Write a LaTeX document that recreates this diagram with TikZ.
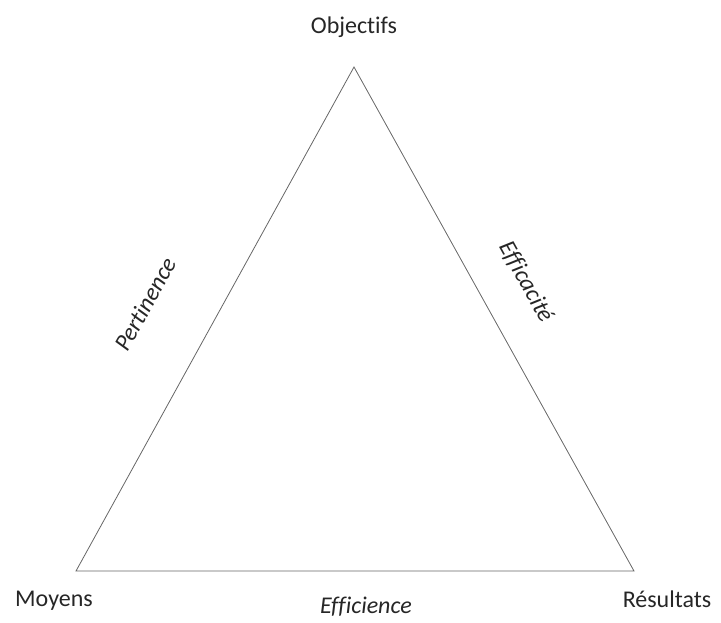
\documentclass[tikz,border=0pt]{standalone}
\usepackage{fontspec}
\setmainfont{Carlito}[Ligatures=NoCommon]
\usetikzlibrary{positioning}
\tikzset{
  side/.style={draw=black!60, line width=0.8pt},
  vertexlabel/.style={font=\fontsize{24}{28}\selectfont, text=black!85},
  sidelabel/.style={font=\fontsize{24}{28}\selectfont\itshape, text=black!85}
}

\begin{document}
\begin{tikzpicture}[x=1pt, y=-1pt]
\useasboundingbox (0,0) rectangle (721,622);

% --- Vertices ---
\coordinate (O) at (354,67);
\coordinate (M) at (76,571);
\coordinate (R) at (634,571);

% --- Triangle ---
\draw[side] (O) -- (R) -- (M) -- cycle;

% --- Vertex labels ---
\node[vertexlabel] (obj) at (354,27) {Objectifs};
\node[vertexlabel] (moy) at (54,601) {Moyens};
\node[vertexlabel] (res) at (667,599) {Résultats};

% --- Side labels ---
\node[sidelabel, rotate=61] (pert) at (145,304) {Pertinence};
\node[sidelabel, rotate=-61] (effic) at (526,282) {Efficacité};
\node[sidelabel] (effi) at (366,607) {Efficience};

\end{tikzpicture}
\end{document}
